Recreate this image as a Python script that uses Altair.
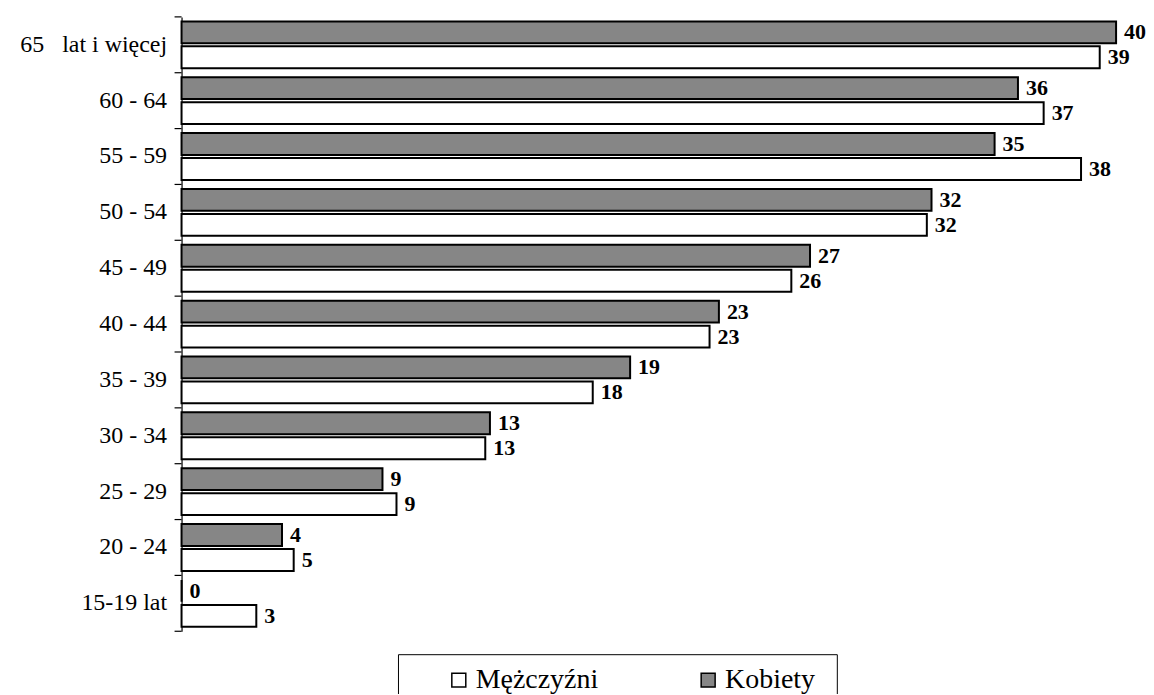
import altair as alt
import pandas as pd

categories = ["65\u00a0\u00a0\u00a0lat i więcej", "60 - 64", "55 - 59", "50 - 54", "45 - 49",
              "40 - 44", "35 - 39", "30 - 34", "25 - 29", "20 - 24", "15-19 lat"]
kobiety_values = [40.0, 35.8, 34.8, 32.1, 26.9, 23.0, 19.2, 13.2, 8.6, 4.3, 0.0]
kobiety_labels = [40, 36, 35, 32, 27, 23, 19, 13, 9, 4, 0]
mezczyzni_values = [39.3, 36.9, 38.5, 31.9, 26.1, 22.6, 17.6, 13.0, 9.2, 4.8, 3.2]
mezczyzni_labels = [39, 37, 38, 32, 26, 23, 18, 13, 9, 5, 3]
series = ["Mężczyźni", "Kobiety"]
fills = ["#ffffff", "#868686"]

rows = []
for i, c in enumerate(categories):
    rows.append({"cat": c, "series": "Kobiety", "value": kobiety_values[i], "label": str(kobiety_labels[i])})
    rows.append({"cat": c, "series": "Mężczyźni", "value": mezczyzni_values[i], "label": str(mezczyzni_labels[i])})
df = pd.DataFrame(rows)
ticks_df = pd.DataFrame({"cat": categories})
last_df = pd.DataFrame({"cat": [categories[-1]]})

axis_y = alt.Axis(title=None, ticks=False, labelPadding=15, labelFont="Liberation Serif",
                  labelFontSize=24, labelColor="black", domainColor="black", domainWidth=1.2)
yscale = alt.Scale(paddingInner=0, paddingOuter=0)
x_enc = alt.X("value:Q", scale=alt.Scale(domain=[0, 40], nice=False), axis=None)
yoff = alt.YOffset("series:N", sort=["Kobiety", "Mężczyźni"],
                   scale=alt.Scale(paddingInner=0.125, paddingOuter=0.18))

bars = alt.Chart(df).mark_bar(stroke="black", strokeWidth=2).encode(
    x=x_enc,
    y=alt.Y("cat:N", sort=categories, scale=yscale, axis=axis_y),
    yOffset=yoff,
    fill=alt.Fill("series:N", scale=alt.Scale(domain=series, range=fills),
                  legend=alt.Legend(title=" ", titleOrient="right", titlePadding=10,
                                    titleFontSize=10,
                                    orient="none", legendX=217, legendY=639,
                                    direction="horizontal", strokeColor="black",
                                    padding=12, symbolType="square", symbolSize=196,
                                    symbolStrokeColor="black", symbolStrokeWidth=1.5,
                                    labelFont="Liberation Serif", labelFontSize=28,
                                    labelColor="black", labelOffset=3,
                                    columnPadding=61, symbolOffset=35)),
)

labels = alt.Chart(df).mark_text(align="left", baseline="middle", dx=8,
                                 font="Liberation Serif", fontWeight="bold",
                                 fontSize=22, color="black").encode(
    x=x_enc,
    y=alt.Y("cat:N", sort=categories, scale=yscale, axis=axis_y),
    yOffset=yoff,
    text="label:N",
)

tick_rules = alt.Chart(ticks_df).mark_rule(color="black", strokeWidth=1.2).encode(
    y=alt.Y("cat:N", sort=categories, scale=yscale, axis=axis_y, bandPosition=0),
    x=alt.value(-7), x2=alt.value(0),
)
bottom_rule = alt.Chart(last_df).mark_rule(color="black", strokeWidth=1.2).encode(
    y=alt.Y("cat:N", sort=categories, scale=yscale, axis=axis_y, bandPosition=1),
    x=alt.value(-7), x2=alt.value(0),
)

chart = alt.layer(bars, labels, tick_rules, bottom_rule).properties(
    width=937, height=616,
    padding={"left": 174, "top": 8, "right": 30, "bottom": 62},
    autosize=alt.AutoSizeParams(type="none"),
    background="white",
).configure_view(strokeWidth=0)

chart.save("out.html", embed_options={"renderer": "svg", "actions": False})
